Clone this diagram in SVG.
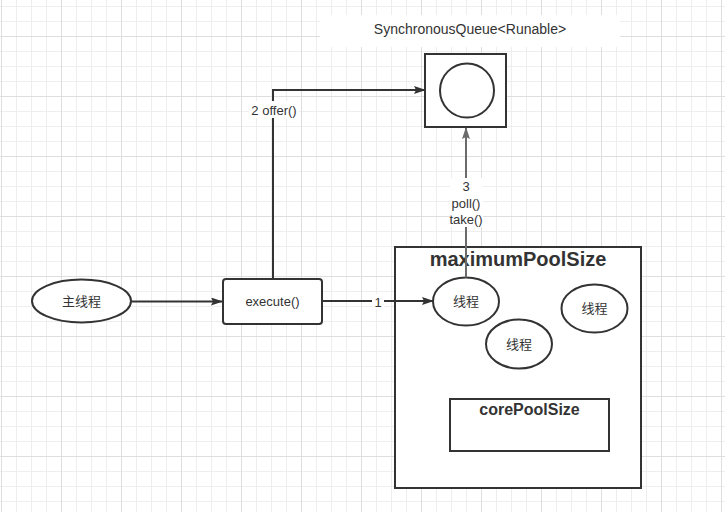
<svg xmlns="http://www.w3.org/2000/svg" width="725" height="512" viewBox="0 0 725 512">
<style>
text{font-family:"Liberation Sans","Noto Sans CJK SC",sans-serif;fill:#333;font-size:13px;text-anchor:middle}
.shape{fill:#fff;stroke:#333;stroke-width:2}
.conn{fill:none;stroke:#333;stroke-width:2}
.conn-g{fill:none;stroke:#6b6b6b;stroke-width:2}
.bold{font-weight:bold}
.lbl{fill:#fff;stroke:none}
</style>
<defs>
<pattern id="minor" x="1" y="6" width="15" height="15" patternUnits="userSpaceOnUse">
<path d="M0.5 0V15M0 0.5H15" stroke="#eeeeee" stroke-width="1" fill="none"/>
</pattern>
<pattern id="major" x="1" y="36" width="60" height="60" patternUnits="userSpaceOnUse">
<path d="M0.5 0V60M0 0.5H60" stroke="#dedede" stroke-width="1" fill="none"/>
</pattern>
<marker id="arr" viewBox="0 0 12 8" refX="11" refY="4" markerWidth="12" markerHeight="8" markerUnits="userSpaceOnUse" orient="auto">
<path d="M0 0L12 4L0 8L2 4z" fill="#333"/>
</marker>
<marker id="arr-g" viewBox="0 0 12 8" refX="11" refY="4" markerWidth="12" markerHeight="8" markerUnits="userSpaceOnUse" orient="auto">
<path d="M0 0L12 4L0 8L2 4z" fill="#6b6b6b"/>
</marker>
</defs>
<rect width="725" height="512" fill="#fff"/>
<rect width="725" height="512" fill="url(#minor)"/>
<rect width="725" height="512" fill="url(#major)"/>

<g id="queue-label">
<rect class="lbl" x="320" y="15" width="300" height="32"/>
<text x="470" y="34" style="font-size:14px">SynchronousQueue&lt;Runable&gt;</text>
</g>

<g id="queue">
<rect class="shape" x="425" y="54" width="81" height="73"/>
<circle class="shape" cx="467" cy="90.5" r="27"/>
</g>

<g id="main-thread">
<ellipse class="shape" cx="81.5" cy="301" rx="49.5" ry="21.5"/>
<text x="81.5" y="305.5">主线程</text>
</g>

<g id="execute">
<rect class="shape" x="223" y="279" width="99" height="45" rx="3"/>
<text x="272.5" y="306">execute()</text>
</g>

<g id="maximum-pool">
<rect class="shape" x="395" y="247" width="246" height="241"/>
<text class="bold" x="518" y="266" style="font-size:20px">maximumPoolSize</text>
</g>

<g id="thread-1">
<ellipse class="shape" cx="466" cy="301.5" rx="33" ry="24"/>
<text x="466" y="306">线程</text>
</g>

<g id="thread-2">
<ellipse class="shape" cx="594.5" cy="308.5" rx="33" ry="24"/>
<text x="594.5" y="313">线程</text>
</g>

<g id="thread-3">
<ellipse class="shape" cx="519" cy="344" rx="33" ry="24.5"/>
<text x="519" y="348.5">线程</text>
</g>

<g id="core-pool">
<rect class="shape" x="450" y="399" width="159" height="52"/>
<text class="bold" x="529.5" y="415" style="font-size:16px">corePoolSize</text>
</g>

<g id="connectors">
<path class="conn" d="M131 301.5H222" marker-end="url(#arr)"/>
<path class="conn" d="M322 301H433" marker-end="url(#arr)"/>
<path class="conn" d="M273 279V90H425" marker-end="url(#arr)"/>
<path class="conn-g" d="M466 277.5V128" marker-end="url(#arr-g)"/>
<rect class="lbl" x="372" y="294" width="12" height="15"/>
<text x="378" y="307">1</text>
<rect class="lbl" x="249" y="101" width="50" height="17"/>
<text x="274" y="114.5">2 offer()</text>
<rect class="lbl" x="450" y="178" width="33" height="49"/>
<text x="466" y="191">3</text>
<text x="466" y="207.5">poll()</text>
<text x="466" y="223.5">take()</text>
</g>
</svg>
